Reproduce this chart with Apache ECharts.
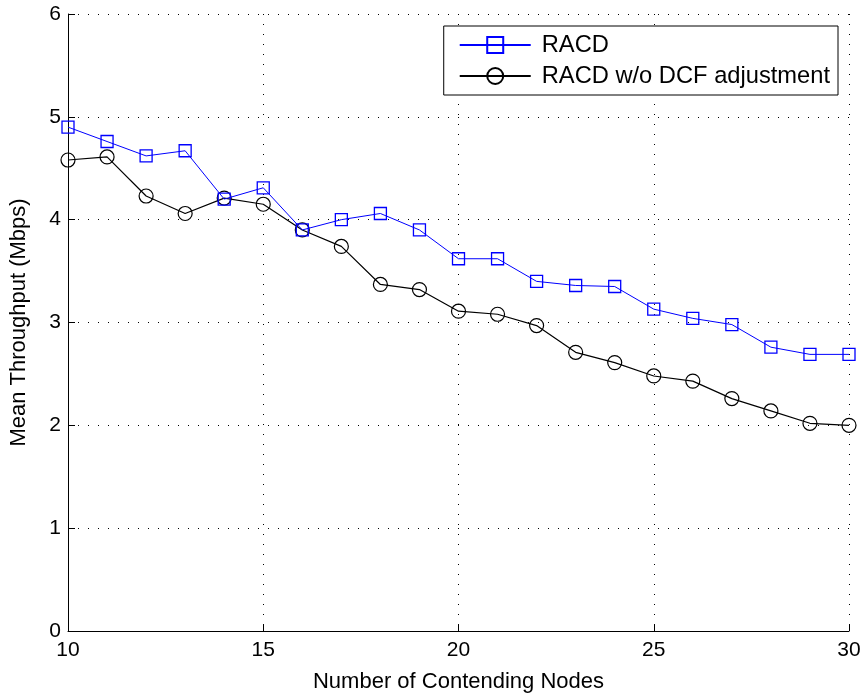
<!DOCTYPE html>
<html>
<head>
<meta charset="utf-8">
<script src="https://cdn.jsdelivr.net/npm/echarts@6/dist/echarts.min.js"></script>
<style>
  html, body { margin: 0; padding: 0; background: #fff; }
  #chart { width: 866px; height: 698px; }
</style>
</head>
<body>
<div id="chart"></div>
<script>
// Number of contending nodes
const nodes = [10, 11, 12, 13, 14, 15, 16, 17, 18, 19, 20, 21, 22, 23, 24, 25, 26, 27, 28, 29, 30];
// Mean throughput (Mbps)
const racd = [4.90, 4.76, 4.62, 4.67, 4.20, 4.31, 3.90, 4.00, 4.06, 3.90, 3.62, 3.62, 3.40, 3.36, 3.35, 3.13, 3.04, 2.98, 2.76, 2.69, 2.69];
const racdNoDcf = [4.58, 4.61, 4.23, 4.06, 4.21, 4.15, 3.90, 3.74, 3.37, 3.32, 3.11, 3.08, 2.97, 2.71, 2.61, 2.48, 2.43, 2.26, 2.14, 2.02, 2.00];
const seriesNames = ['RACD', 'RACD w/o DCF adjustment'];

const font = 'Liberation Sans, Arial, Helvetica, sans-serif';
const dotted = { color: '#000', width: 1, type: [1, 9] };

const chart = echarts.init(document.getElementById('chart'), null, { renderer: 'canvas' });
chart.setOption({
  animation: false,
  backgroundColor: '#fff',
  grid: { left: 67, right: 17, top: 14, bottom: 67, containLabel: false },
  legend: {
    right: 28,
    top: 26,
    orient: 'vertical',
    backgroundColor: '#fff',
    borderColor: '#000',
    borderWidth: 1,
    padding: [7, 8, 7, 15],
    itemWidth: 71,
    itemHeight: 20,
    itemGap: 7,
    textStyle: { fontFamily: font, fontSize: 23.7, color: '#000', padding: [0, 0, 0, 6] },
    data: seriesNames
  },
  xAxis: {
    type: 'value',
    min: 10, max: 30, interval: 5,
    name: 'Number of Contending Nodes',
    nameLocation: 'middle',
    nameGap: 40,
    nameTextStyle: { fontFamily: font, fontSize: 22, color: '#000' },
    axisLine: { onZero: false, lineStyle: { color: '#000', width: 1 } },
    axisTick: { inside: true, length: 7, lineStyle: { color: '#000' } },
    axisLabel: { fontFamily: font, fontSize: 21, color: '#000', margin: 9 },
    splitLine: { show: true, lineStyle: dotted }
  },
  yAxis: {
    type: 'value',
    min: 0, max: 6, interval: 1,
    name: 'Mean Throughput (Mbps)',
    nameLocation: 'middle',
    nameGap: 38,
    nameTextStyle: { fontFamily: font, fontSize: 22, color: '#000' },
    axisLine: { show: true, onZero: false, lineStyle: { color: '#000', width: 1 } },
    axisTick: { show: true, inside: true, length: 7, lineStyle: { color: '#000' } },
    axisLabel: { fontFamily: font, fontSize: 21, color: '#000', margin: 7 },
    splitLine: { show: true, lineStyle: dotted }
  },
  series: [
    {
      name: seriesNames[0],
      type: 'line',
      data: nodes.map((x, i) => [x, racd[i]]),
      symbol: 'rect',
      symbolSize: 12,
      showAllSymbol: true,
      lineStyle: { color: '#0000ff', width: 1 },
      itemStyle: { color: 'rgba(0,0,0,0)', borderColor: '#0000ff', borderWidth: 1.3 },
      z: 3
    },
    {
      name: seriesNames[1],
      type: 'line',
      data: nodes.map((x, i) => [x, racdNoDcf[i]]),
      symbol: 'circle',
      symbolSize: 14,
      showAllSymbol: true,
      lineStyle: { color: '#000', width: 1.2 },
      itemStyle: { color: 'rgba(0,0,0,0)', borderColor: '#000', borderWidth: 1.2 },
      z: 2
    }
  ]
});
</script>
</body>
</html>
